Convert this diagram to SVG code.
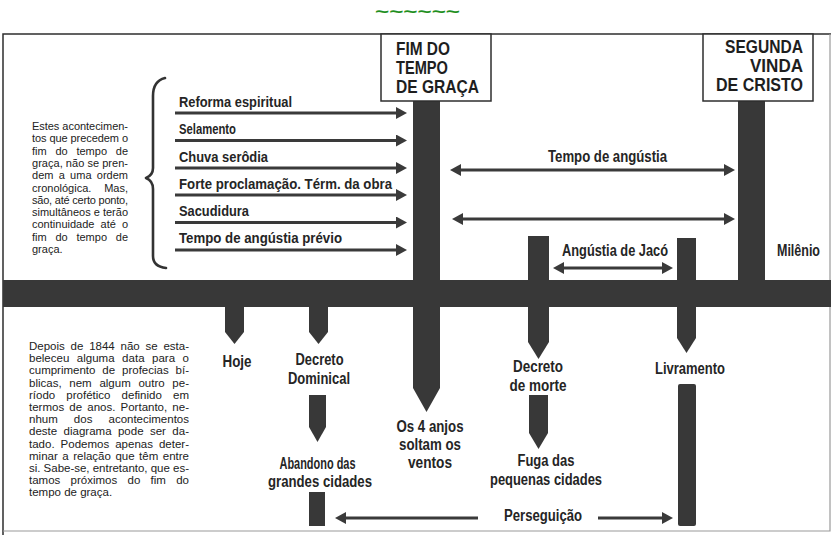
<svg xmlns="http://www.w3.org/2000/svg" width="831" height="535" viewBox="0 0 831 535">
<style>
.bg{fill:#ffffff}
.frame{fill:none;stroke:#2e2e2e;stroke-width:1.5}
.frame2{fill:none;stroke:#9a9a9a;stroke-width:1.2}
.box{fill:#ffffff;stroke:#2e2e2e;stroke-width:1.5}
.bar{fill:#383838}
.hdr{font-family:"Liberation Sans",Arial,sans-serif;font-weight:bold;font-size:18px;fill:#1e1e1e}
.lbl{font-family:"Liberation Sans",Arial,sans-serif;font-weight:bold;font-size:15px;fill:#252525}
.lbl2{font-family:"Liberation Sans",Arial,sans-serif;font-weight:bold;font-size:16px;fill:#252525;text-anchor:middle}
.para{font-family:"Liberation Sans",Arial,sans-serif;font-size:11px;fill:#222}
.para2{font-family:"Liberation Sans",Arial,sans-serif;font-size:11.5px;fill:#222}
.arr{fill:none;stroke:#3a3a3a;stroke-width:3}
.brace{fill:none;stroke:#333;stroke-width:2.6;stroke-linecap:round;stroke-linejoin:round}
.tilde{font-family:"Liberation Sans",Arial,sans-serif;font-weight:bold;font-size:16px;fill:#1f8f1f}
</style>
<defs>
<marker id="ah" markerUnits="userSpaceOnUse" markerWidth="11" markerHeight="12" refX="7" refY="6" orient="auto-start-reverse">
<path d="M0,0 L11,6 L0,12 z" fill="#3a3a3a"/>
</marker>
</defs>
<rect class="bg" x="0" y="0" width="831" height="535"/>
<text class="tilde" x="375" y="17" textLength="85" lengthAdjust="spacingAndGlyphs">~~~~~~</text>
<g id="frame">
<path class="frame" d="M3,535 L3,34 L831,34"/>
<path class="frame2" d="M830,34 L830,531 L3,531"/>
</g>
<g id="timeline">
<rect class="bar" x="3" y="280" width="828" height="27"/>
</g>
<g id="fim-do-tempo-de-graca">
<polygon class="bar" points="413,101 440,101 440,388 426.5,412 413,388"/>
<rect class="box" x="381" y="34" width="110" height="67"/>
<text class="hdr" x="396" y="55" textLength="54" lengthAdjust="spacingAndGlyphs">FIM DO</text>
<text class="hdr" x="396" y="74" textLength="52" lengthAdjust="spacingAndGlyphs">TEMPO</text>
<text class="hdr" x="396" y="93" textLength="83" lengthAdjust="spacingAndGlyphs">DE GRAÇA</text>
</g>
<g id="segunda-vinda">
<rect class="bar" x="738" y="101" width="27" height="180"/>
<rect class="box" x="703" y="34" width="110" height="67"/>
<text class="hdr" x="803" y="53" text-anchor="end" textLength="78" lengthAdjust="spacingAndGlyphs">SEGUNDA</text>
<text class="hdr" x="803" y="72" text-anchor="end" textLength="53" lengthAdjust="spacingAndGlyphs">VINDA</text>
<text class="hdr" x="803" y="91" text-anchor="end" textLength="87" lengthAdjust="spacingAndGlyphs">DE CRISTO</text>
</g>
<g id="note-top">
<text class="para" x="32" y="130" textLength="96" lengthAdjust="spacing">Estes acontecimen-</text>
<text class="para" x="32" y="142.3" textLength="96" lengthAdjust="spacing">tos que precedem o</text>
<text class="para" x="32" y="154.6" word-spacing="5.7" textLength="96" lengthAdjust="spacing">fim do tempo de</text>
<text class="para" x="32" y="166.9" textLength="96" lengthAdjust="spacing">graça, não se pren-</text>
<text class="para" x="32" y="179.2" word-spacing="2.2" textLength="96" lengthAdjust="spacing">dem a uma ordem</text>
<text class="para" x="32" y="191.5" word-spacing="9.8" textLength="96" lengthAdjust="spacing">cronológica. Mas,</text>
<text class="para" x="32" y="203.8" textLength="96" lengthAdjust="spacing">são, até certo ponto,</text>
<text class="para" x="32" y="216.1" textLength="96" lengthAdjust="spacing">simultâneos e terão</text>
<text class="para" x="32" y="228.4" word-spacing="3" textLength="96" lengthAdjust="spacing">continuidade até o</text>
<text class="para" x="32" y="240.7" word-spacing="5.7" textLength="96" lengthAdjust="spacing">fim do tempo de</text>
<text class="para" x="32" y="253">graça.</text>
<path class="brace" d="M165,78 C157,80 153,86 153,96 L153,168 C153,173 151,176 146,178 C151,180 153,183 153,189 L153,256 C153,263 157,267 166,268"/>
</g>
<g id="note-bottom">
<text class="para2" x="29" y="350" word-spacing="2.6" textLength="160" lengthAdjust="spacing">Depois de 1844 não se esta-</text>
<text class="para2" x="29" y="362.2" word-spacing="4.3" textLength="160" lengthAdjust="spacing">beleceu alguma data para o</text>
<text class="para2" x="29" y="374.4" word-spacing="3.7" textLength="160" lengthAdjust="spacing">cumprimento de profecias bí-</text>
<text class="para2" x="29" y="386.6" word-spacing="4.5" textLength="160" lengthAdjust="spacing">blicas, nem algum outro pe-</text>
<text class="para2" x="29" y="398.8" word-spacing="8" textLength="160" lengthAdjust="spacing">ríodo profético definido em</text>
<text class="para2" x="29" y="411" word-spacing="2" textLength="160" lengthAdjust="spacing">termos de anos. Portanto, ne-</text>
<text class="para2" x="29" y="423.2" word-spacing="12.9" textLength="160" lengthAdjust="spacing">nhum dos acontecimentos</text>
<text class="para2" x="29" y="435.4" word-spacing="3.2" textLength="160" lengthAdjust="spacing">deste diagrama pode ser da-</text>
<text class="para2" x="29" y="447.6" word-spacing="2.8" textLength="160" lengthAdjust="spacing">tado. Podemos apenas deter-</text>
<text class="para2" x="29" y="459.8" word-spacing="1.3" textLength="160" lengthAdjust="spacing">minar a relação que têm entre</text>
<text class="para2" x="29" y="472" textLength="160" lengthAdjust="spacing">si. Sabe-se, entretanto, que es-</text>
<text class="para2" x="29" y="484.2" word-spacing="7.1" textLength="160" lengthAdjust="spacing">tamos próximos do fim do</text>
<text class="para2" x="29" y="496.4">tempo de graça.</text>
</g>
<g id="pre-events">
<text class="lbl" x="179" y="107" textLength="113" lengthAdjust="spacingAndGlyphs">Reforma espiritual</text>
<text class="lbl" x="179" y="134" textLength="57" lengthAdjust="spacingAndGlyphs">Selamento</text>
<text class="lbl" x="179" y="162" textLength="89" lengthAdjust="spacingAndGlyphs">Chuva serôdia</text>
<text class="lbl" x="179" y="189" textLength="213" lengthAdjust="spacingAndGlyphs">Forte proclamação. Térm. da obra</text>
<text class="lbl" x="179" y="216" textLength="70" lengthAdjust="spacingAndGlyphs">Sacudidura</text>
<text class="lbl" x="179" y="243" textLength="163" lengthAdjust="spacingAndGlyphs">Tempo de angústia prévio</text>
</g>
<g id="tempo-de-angustia">
<text class="lbl2" x="607.5" y="162" textLength="119" lengthAdjust="spacingAndGlyphs">Tempo de angústia</text>
</g>
<g id="angustia-de-jaco">
<polygon class="bar" points="528,236 549,236 549,342 538.5,359 528,342"/>
<polygon class="bar" points="677,238 696,238 696,338 686.5,353 677,338"/>
<text class="lbl2" x="615" y="256" textLength="106" lengthAdjust="spacingAndGlyphs">Angústia de Jacó</text>
</g>
<g id="milenio">
<text class="lbl2" x="798.5" y="256" textLength="43" lengthAdjust="spacingAndGlyphs">Milênio</text>
</g>
<g id="hoje">
<polygon class="bar" points="225,300 244,300 244,332 234.5,344 225,332"/>
<text class="lbl2" x="237" y="367" textLength="29" lengthAdjust="spacingAndGlyphs">Hoje</text>
</g>
<g id="decreto-dominical">
<polygon class="bar" points="309,300 328,300 328,332 318.5,344 309,332"/>
<text class="lbl2" x="319.5" y="365" textLength="48" lengthAdjust="spacingAndGlyphs">Decreto</text>
<text class="lbl2" x="319" y="384" textLength="62" lengthAdjust="spacingAndGlyphs">Dominical</text>
</g>
<g id="abandono">
<polygon class="bar" points="309,395 326,395 326,427 317.5,442 309,427"/>
<text class="lbl2" x="317.5" y="469" textLength="76" lengthAdjust="spacingAndGlyphs">Abandono das</text>
<text class="lbl2" x="320" y="487" textLength="104" lengthAdjust="spacingAndGlyphs">grandes cidades</text>
<rect class="bar" x="309" y="492" width="16" height="34"/>
</g>
<g id="quatro-anjos">
<text class="lbl2" x="430" y="432" textLength="67" lengthAdjust="spacingAndGlyphs">Os 4 anjos</text>
<text class="lbl2" x="430" y="450" textLength="62" lengthAdjust="spacingAndGlyphs">soltam os</text>
<text class="lbl2" x="430" y="468" textLength="44" lengthAdjust="spacingAndGlyphs">ventos</text>
</g>
<g id="decreto-de-morte">
<text class="lbl2" x="538" y="372" textLength="50" lengthAdjust="spacingAndGlyphs">Decreto</text>
<text class="lbl2" x="538" y="391" textLength="57" lengthAdjust="spacingAndGlyphs">de morte</text>
</g>
<g id="fuga">
<polygon class="bar" points="529,395 548,395 548,433 538.5,449 529,433"/>
<text class="lbl2" x="546" y="466" textLength="57" lengthAdjust="spacingAndGlyphs">Fuga das</text>
<text class="lbl2" x="546" y="485" textLength="112" lengthAdjust="spacingAndGlyphs">pequenas cidades</text>
</g>
<g id="livramento">
<text class="lbl2" x="690" y="374" textLength="70" lengthAdjust="spacingAndGlyphs">Livramento</text>
<rect class="bar" x="678" y="384" width="18" height="142" rx="2"/>
</g>
<g id="perseguicao">
<text class="lbl2" x="543" y="521" textLength="78" lengthAdjust="spacingAndGlyphs">Perseguição</text>
</g>
<g id="connectors">
<line class="arr" x1="175" y1="113" x2="403" y2="113" marker-end="url(#ah)"/>
<line class="arr" x1="175" y1="140.5" x2="403" y2="140.5" marker-end="url(#ah)"/>
<line class="arr" x1="175" y1="168" x2="403" y2="168" marker-end="url(#ah)"/>
<line class="arr" x1="175" y1="195" x2="403" y2="195" marker-end="url(#ah)"/>
<line class="arr" x1="175" y1="222.5" x2="403" y2="222.5" marker-end="url(#ah)"/>
<line class="arr" x1="175" y1="250" x2="403" y2="250" marker-end="url(#ah)"/>
<line class="arr" x1="454" y1="170" x2="731" y2="170" marker-start="url(#ah)" marker-end="url(#ah)"/>
<line class="arr" x1="456" y1="219" x2="731" y2="219" marker-start="url(#ah)" marker-end="url(#ah)"/>
<line class="arr" x1="557" y1="268" x2="669" y2="268" marker-start="url(#ah)" marker-end="url(#ah)"/>
<line class="arr" x1="478" y1="518" x2="339" y2="518" marker-end="url(#ah)"/>
<line class="arr" x1="598" y1="518" x2="669" y2="518" marker-end="url(#ah)"/>
</g>
</svg>
